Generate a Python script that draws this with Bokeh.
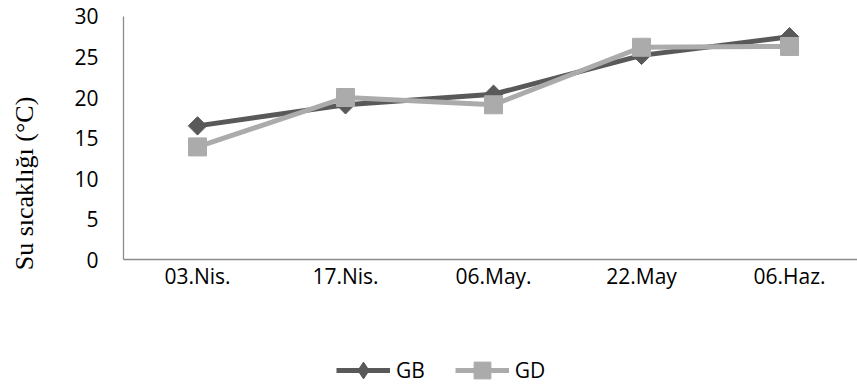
import math

from bokeh.embed import file_html
from bokeh.models import (ColumnDataSource, FixedTicker, Label, Legend,
                          LegendItem, Range1d)
from bokeh.plotting import figure
from bokeh.resources import INLINE

# Sampling dates and water temperatures (°C) at the two stations
dates = ["03.Nis.", "17.Nis.", "06.May.", "22.May", "06.Haz."]
gb_temp = [16.5, 19.1, 20.4, 25.2, 27.5]
gd_temp = [13.9, 20.0, 19.1, 26.2, 26.3]
y_ticks = [0, 5, 10, 15, 20, 25, 30]

idx = list(range(len(dates)))
src = ColumnDataSource(dict(x=idx, gb=gb_temp, gd=gd_temp))

GB_COLOR = "#595959"
GD_COLOR = "#ababab"
AXIS_COLOR = "#8c8c8c"
TICK_FONT = "Open Sans"

# The frame fills the whole canvas; both axes sit at fixed data positions
# inside it, which leaves room for the axis title and legend around them.
p = figure(width=857, height=387, output_backend="svg", toolbar_location=None,
           x_range=Range1d(-1.331, 4.459), y_range=Range1d(-15.8, 31.975),
           min_border=0)
p.outline_line_color = None
p.grid.grid_line_color = None
p.background_fill_color = "white"
p.border_fill_color = "white"

p.xaxis.fixed_location = 0
p.xaxis.bounds = (-0.5, 4.6)
p.yaxis.fixed_location = -0.5
p.yaxis.bounds = (0, 30)

p.xaxis.ticker = FixedTicker(ticks=idx)
p.xaxis.major_label_overrides = {i: d for i, d in zip(idx, dates)}
p.yaxis.ticker = FixedTicker(ticks=y_ticks)
for ax in (p.xaxis, p.yaxis):
    ax.axis_line_color = AXIS_COLOR
    ax.axis_line_width = 1.3
    ax.major_tick_line_color = None
    ax.minor_tick_line_color = None
    ax.major_tick_out = 0
    ax.major_tick_in = 0
    ax.major_label_text_font = TICK_FONT
    ax.major_label_text_font_size = "21px"
    ax.major_label_text_color = "#000000"
p.yaxis.major_label_standoff = 25
p.xaxis.major_label_standoff = 2

# series: GB underneath, GD on top
gb_line = p.line("x", "gb", source=src, line_color=GB_COLOR, line_width=5)
# GB marker: a diamond core (also used as the legend key, where markers are
# drawn unrotated) covered by a square turned 45 degrees
gb_key = p.scatter("x", "gb", source=src, marker="diamond", size=17,
                   fill_color=GB_COLOR, line_color=GB_COLOR)
gb_pts = p.scatter("x", "gb", source=src, marker="square", angle=math.pi / 4,
                   size=13, fill_color=GB_COLOR, line_color=GB_COLOR)
gd_line = p.line("x", "gd", source=src, line_color=GD_COLOR, line_width=5)
gd_pts = p.scatter("x", "gd", source=src, marker="square", size=18,
                   fill_color=GD_COLOR, line_color=GD_COLOR)

# y-axis title
p.add_layout(Label(x=24, y=204, x_units="screen", y_units="screen",
                   text="Su sıcaklığı (°C)", angle=math.pi / 2,
                   text_align="center", text_baseline="middle",
                   text_font="Liberation Serif",
                   text_font_size="26px", text_color="#000000"))

legend = Legend(items=[LegendItem(label="GB", renderers=[gb_line, gb_key]),
                       LegendItem(label="GD", renderers=[gd_line, gd_pts])],
                orientation="horizontal", location=(336, -4),
                glyph_width=54, glyph_height=42, label_standoff=6,
                spacing=30, padding=0, margin=0,
                border_line_color=None, background_fill_alpha=0,
                label_text_font=TICK_FONT, label_text_font_size="21px",
                label_text_color="#000000")
p.add_layout(legend)

open("out.html", "w").write(file_html(p, INLINE))
